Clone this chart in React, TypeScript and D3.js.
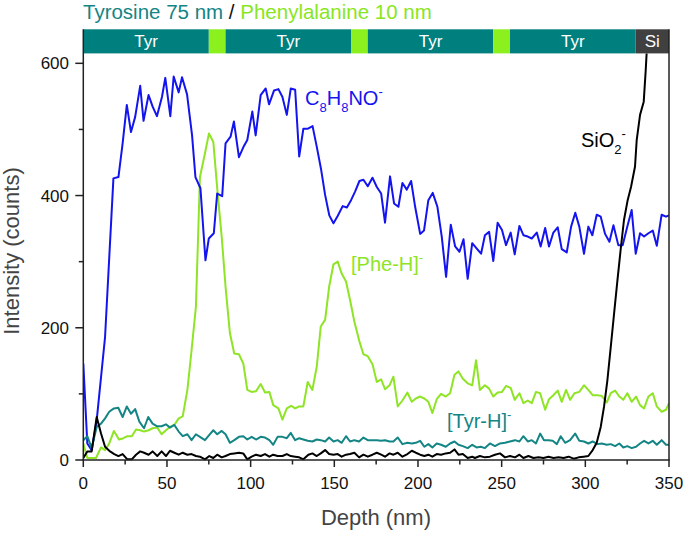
import React from "react";
import * as d3 from "d3";

// ---- data ----
const layerNames = ["Tyr", "Phe", "Tyr", "Phe", "Tyr", "Phe", "Tyr", "Si"];
const layerThickness = [75, 10, 75, 10, 75, 10, 75, 20];

const xTicks = [0, 50, 100, 150, 200, 250, 300, 350];
const xMinorTicks = [25, 75, 125, 175, 225, 275, 325];
const yTicks = [0, 200, 400, 600];
const yMinorTicks = [100, 300, 500];

const c8h8no: [number, number][] = [
  [0,146],[2.4,25],[5,15],[8,60],[13,186],[18,426],[21,428],[23.5,479],[26,537],[28.5,496],[31,519],[34,566],[36,513],[39,552],[41.5,534],[44,520],[47,549],[49,578],[52,520],[54,580],[57,556],[59,579],[62,553],[65,491],[67,428],[70,411],[73,302],[75,335],[78,343],[80,403],[83,399],[85,479],[88,489],[90,512],[93,458],[96,475],[98,484],[101,527],[103,491],[106,552],[109,562],[111,538],[114,559],[116.6,561],[119,549],[121.6,522],[124,562],[126.6,560],[129,459],[131.5,501],[134,501],[137,505],[139.5,474],[142,441],[144.5,401],[147,370],[149.5,358],[152,369],[155,384],[157.5,382],[160,393],[162.4,406],[165,422],[167.4,424],[170,414],[172.8,427],[175.4,413],[178,403],[180.3,359],[183.3,429],[185.7,388],[188.3,383],[190.7,419],[193.3,409],[195.9,422],[198.3,383],[201.3,342],[203.6,347],[206.2,393],[208.8,404],[211.6,383],[214.2,338],[216.8,277],[219.6,356],[222.2,323],[224.8,315],[227.2,334],[229.7,274],[232.4,328],[235,320],[237.7,312],[240,340],[242.5,345],[245,301],[247.6,359],[250.2,348],[252.6,325],[255.4,344],[257.8,311],[260.6,354],[263,340],[265.6,338],[268,335],[271,344],[273.3,323],[276,351],[278.3,323],[280.9,344],[283.5,352],[285.9,319],[288.9,314],[291.5,353],[294,374],[296.4,353],[299.2,312],[301.8,353],[304.2,340],[306.8,371],[309.2,368],[311.8,342],[314.4,330],[316.8,355],[319.7,325],[322.3,325],[325.1,353],[327.7,378],[330.1,312],[332.7,343],[335.1,338],[337.7,343],[340.3,347],[342.7,324],[345.6,371],[348.2,368],[350,370]
];

const pheH: [number, number][] = [
  [0,25],[2.4,3],[7.6,3],[10.6,19],[13,15],[15.5,25],[18.3,44],[21.3,31],[24,33],[26.3,36],[29,36],[31.5,46],[34,45],[36.3,43],[39,45],[41.4,48],[44.2,49],[46.8,39],[49.4,45],[51.8,50],[54.4,53],[57,63],[59.4,66],[62.2,106],[64.7,166],[67.3,232],[69.7,428],[72.3,459],[75.1,494],[77.7,481],[80.3,403],[82.7,338],[85,262],[87.6,192],[90.2,161],[93,160],[95.6,146],[98,106],[100.6,103],[103.2,104],[106,115],[108.6,102],[111.2,103],[113.5,83],[116.6,78],[119,61],[121.6,78],[124.2,82],[126.6,78],[129,81],[131.5,81],[134.1,118],[136.9,106],[139.5,141],[141.9,202],[144.5,212],[146.9,262],[149.5,296],[152,300],[154.4,282],[157,270],[159.4,242],[162,209],[164.8,181],[167.4,160],[170,157],[172.8,145],[175.4,118],[178,122],[180.3,107],[183,113],[185.3,126],[187.9,81],[190.7,90],[193.7,102],[196.3,88],[198.7,93],[201.3,96],[203.8,93],[206.2,88],[208.6,71],[211.2,92],[213.8,100],[216.6,96],[219.2,101],[221.8,129],[224.2,134],[226.8,123],[229.7,116],[232.4,113],[234.7,151],[237,106],[240,113],[242.5,108],[245,96],[247.6,102],[250.2,103],[252.6,112],[255.4,109],[257.8,91],[260.6,101],[263,86],[265.6,90],[268,86],[270.5,103],[273,101],[276,76],[278.3,92],[280.9,98],[283.5,105],[285.9,88],[288.5,106],[290.9,91],[293.5,101],[296.4,103],[299.2,113],[301.8,106],[304.4,98],[307.2,98],[309.8,97],[312.8,87],[315.2,101],[317.8,105],[320.3,96],[322.7,91],[325.1,101],[327.7,88],[330.3,96],[332.7,83],[335.1,78],[337.7,96],[340.3,101],[342.7,81],[345.6,73],[348.2,76],[350,86]
];

const tyrH: [number, number][] = [
  [0,30],[2.4,36],[5,18],[8,50],[10.6,55],[13,63],[15.5,73],[18.3,78],[20.9,79],[23.5,65],[26,81],[28.5,70],[31,77],[33.5,58],[36.3,48],[38.8,65],[41.4,55],[44.2,51],[46.8,51],[49.4,54],[51.8,49],[54.4,53],[57,43],[59.4,36],[62.2,39],[64.7,30],[67.3,39],[69.7,35],[72.7,30],[75.3,38],[77.7,45],[80,39],[82.7,44],[85,39],[87.6,26],[90.2,30],[93,35],[95.6,36],[98,31],[100.6,35],[103.2,31],[106,35],[108.6,34],[111.2,30],[113.5,23],[116.1,35],[119,35],[121.6,33],[124,41],[126.6,30],[129,33],[131.5,31],[134.1,29],[136.9,28],[139.5,31],[141.9,30],[144.5,28],[146.9,34],[149.5,28],[152,30],[154.4,26],[157,36],[159.4,28],[162,30],[164.8,28],[167.4,34],[170,30],[172.8,30],[175.4,30],[178,29],[180.3,30],[183,28],[185.3,28],[187.9,34],[190.7,24],[193.7,26],[196.3,25],[198.7,26],[201.3,29],[203.8,20],[206.2,24],[208.6,19],[211.2,25],[213.8,23],[216.6,20],[219.2,25],[221.8,28],[224.2,23],[226.8,21],[229.7,18],[232.4,23],[235,19],[237.5,20],[240,18],[243,25],[246,21],[249,25],[252,26],[255,28],[258,30],[260.6,28],[263,36],[265.6,28],[268,30],[270.5,25],[273,40],[275.3,30],[278,30],[280.5,29],[283,24],[285.3,36],[287.9,26],[290.9,30],[293.9,40],[296.4,29],[299.2,28],[301.8,25],[304.4,28],[307.2,24],[309.8,25],[312.8,23],[315.2,24],[317.8,21],[320.3,25],[322.7,19],[325.1,21],[327.7,18],[330.3,20],[332.7,25],[335.1,29],[337.7,25],[340.3,29],[342.7,23],[345.6,30],[348.2,23],[350,23]
];

const sio2: [number, number][] = [
  [0,3],[2.4,13],[5,13],[8,65],[10.6,40],[13,20],[16,13],[18.5,9],[21,6],[23.5,9],[26.3,1],[29,1],[31.5,8],[34,13],[36.3,11],[39,8],[41.4,13],[44.2,6],[46.8,13],[49.4,6],[51.8,14],[54.4,11],[57,8],[59.4,11],[62.2,8],[64.7,9],[67.3,6],[69.7,5],[72.7,1],[75.3,6],[77.7,3],[80,8],[82.7,4],[85,6],[87.6,9],[90.2,10],[93,11],[95.6,10],[98,1],[100.6,5],[103.2,8],[106,6],[108.6,9],[111.2,5],[113.5,8],[116.1,6],[119,6],[121.6,9],[124,6],[126.6,5],[129,4],[131.5,1],[134.5,8],[136.9,10],[139.5,6],[141.9,10],[144.5,15],[146.9,9],[149.5,8],[152,9],[154.4,5],[157,8],[159.4,9],[162,11],[164.8,4],[167.4,8],[170,5],[172.8,8],[175.4,11],[178,8],[180.3,5],[183,10],[185.3,8],[187.9,11],[190.7,5],[193.7,9],[196.3,14],[198.7,11],[201.3,8],[203.8,6],[206.2,8],[208.6,5],[211.2,9],[213.8,8],[216.6,10],[219.2,11],[221.8,16],[224.2,8],[226.8,9],[229.7,3],[232.4,5],[234,3],[237,6],[240,4],[243,5],[246,8],[249,10],[252,4],[255,6],[258,4],[260.6,8],[263,3],[266,6],[269,3],[272,4],[275,3],[278,5],[281,3],[284,4],[287,3],[290,5],[293,2],[296,4],[299,5],[301.8,6],[304.4,15],[306.8,26],[309.2,50],[311.2,81],[313.2,121],[315.2,171],[317.2,222],[319.2,272],[321.1,318],[323.1,363],[325.3,393],[327.3,413],[329.7,444],[330.7,484],[332.7,522],[334.9,542],[336.1,590],[338,680],[340,760]
];

// ---- styling ----
const W = 685;
const H = 534;
const FONT = "'Liberation Sans', Arial, Helvetica, sans-serif";
const BLUE = "#1414ee";
const GREEN = "#8ee425";
const TEAL = "#148585";
const BAR_TEAL = "#007f7f";
const BAR_GREEN = "#8cf01e";
const SI_GRAY = "#404040";
const AXIS = "#222";

const left = 83.3;
const right = 669;
const plotTop = 53.4;
const bottom = 460;
const barTop = 29.3;

export default function App() {
  const x = d3.scaleLinear().domain([0, 350]).range([left, right]);
  const y = d3.scaleLinear().domain([0, 615]).range([bottom, plotTop]);
  const line = d3
    .line<[number, number]>()
    .x((d) => x(d[0]))
    .y((d) => y(d[1]));

  let acc = 0;
  const layers = layerNames.map((name, i) => {
    const start = acc;
    acc += layerThickness[i];
    return { name, start, end: acc };
  });
  const layerFill = (n: string) =>
    n === "Tyr" ? BAR_TEAL : n === "Phe" ? BAR_GREEN : SI_GRAY;

  return (
    <svg
      width={W}
      height={H}
      style={{ position: "absolute", left: 0, top: 0, background: "#fff" }}
      fontFamily={FONT}
    >
      <defs>
        <clipPath id="plotclip">
          <rect x={left} y={plotTop} width={right - left} height={bottom - plotTop + 2} />
        </clipPath>
      </defs>

      {/* title */}
      <text x={83} y={19} fontSize={20.5}>
        <tspan fill={TEAL}>Tyrosine 75 nm</tspan>
        <tspan fill="#111"> / </tspan>
        <tspan fill="#88e61e">Phenylalanine 10 nm</tspan>
      </text>

      {/* layer bar */}
      {layers.map((l, i) => (
        <g key={i}>
          <rect
            x={x(l.start)}
            y={barTop}
            width={x(l.end) - x(l.start)}
            height={plotTop - barTop}
            fill={layerFill(l.name)}
          />
          {l.name !== "Phe" && (
            <text
              x={(x(l.start) + x(l.end)) / 2}
              y={46.5}
              fontSize={17}
              fill="#fff"
              textAnchor="middle"
            >
              {l.name}
            </text>
          )}
        </g>
      ))}

      {/* series */}
      <g clipPath="url(#plotclip)" fill="none" strokeWidth={2} strokeLinejoin="round">
        <path d={line(pheH) || ""} stroke={GREEN} />
        <path d={line(c8h8no) || ""} stroke={BLUE} />
        <path d={line(tyrH) || ""} stroke={TEAL} />
        <path d={line(sio2) || ""} stroke="#000" />
      </g>

      {/* frame */}
      <line x1={left} x2={left} y1={barTop} y2={bottom} stroke={AXIS} strokeWidth={1.5} />
      <line x1={right} x2={right} y1={barTop} y2={bottom} stroke={AXIS} strokeWidth={1.5} />
      <line x1={left - 0.75} x2={right + 0.75} y1={bottom} y2={bottom} stroke={AXIS} strokeWidth={1.5} />

      {/* x ticks */}
      {xTicks.map((t) => (
        <g key={"xt" + t}>
          <line x1={x(t)} x2={x(t)} y1={bottom} y2={bottom + 7} stroke={AXIS} strokeWidth={1.5} />
          <text x={x(t)} y={489} fontSize={17} textAnchor="middle" fill="#111">
            {t}
          </text>
        </g>
      ))}
      {xMinorTicks.map((t) => (
        <line key={"xm" + t} x1={x(t)} x2={x(t)} y1={bottom} y2={bottom + 4.5} stroke={AXIS} strokeWidth={1.5} />
      ))}

      {/* y ticks */}
      {yTicks.map((t) => (
        <g key={"yt" + t}>
          <line x1={left - 8} x2={left} y1={y(t)} y2={y(t)} stroke={AXIS} strokeWidth={1.5} />
          <text x={69} y={y(t) + 6} fontSize={17} textAnchor="end" fill="#111">
            {t}
          </text>
        </g>
      ))}
      {yMinorTicks.map((t) => (
        <line key={"ym" + t} x1={left - 4.5} x2={left} y1={y(t)} y2={y(t)} stroke={AXIS} strokeWidth={1.5} />
      ))}

      {/* axis titles */}
      <text x={376} y={525} fontSize={22} textAnchor="middle" fill="#444">
        Depth (nm)
      </text>
      <text
        transform={`translate(19,251) rotate(-90)`}
        fontSize={22}
        textAnchor="middle"
        fill="#444"
      >
        Intensity (counts)
      </text>

      {/* series labels */}
      <text x={305} y={105} fontSize={20} fill={BLUE}>
        <tspan>C</tspan>
        <tspan fontSize={13} dy={7}>8</tspan>
        <tspan dy={-7}>H</tspan>
        <tspan fontSize={13} dy={7}>8</tspan>
        <tspan dy={-7}>NO</tspan>
        <tspan fontSize={13} dy={-9}>-</tspan>
      </text>
      <text x={581} y={147} fontSize={20} fill="#000">
        <tspan>SiO</tspan>
        <tspan fontSize={13} dy={7}>2</tspan>
        <tspan fontSize={13} dy={-16}>-</tspan>
      </text>
      <text x={351} y={271} fontSize={20} fill={GREEN}>
        <tspan>[Phe-H]</tspan>
        <tspan fontSize={13} dy={-9}>-</tspan>
      </text>
      <text x={447} y={428} fontSize={20} fill={TEAL}>
        <tspan>[Tyr-H]</tspan>
        <tspan fontSize={13} dy={-9}>-</tspan>
      </text>
    </svg>
  );
}
